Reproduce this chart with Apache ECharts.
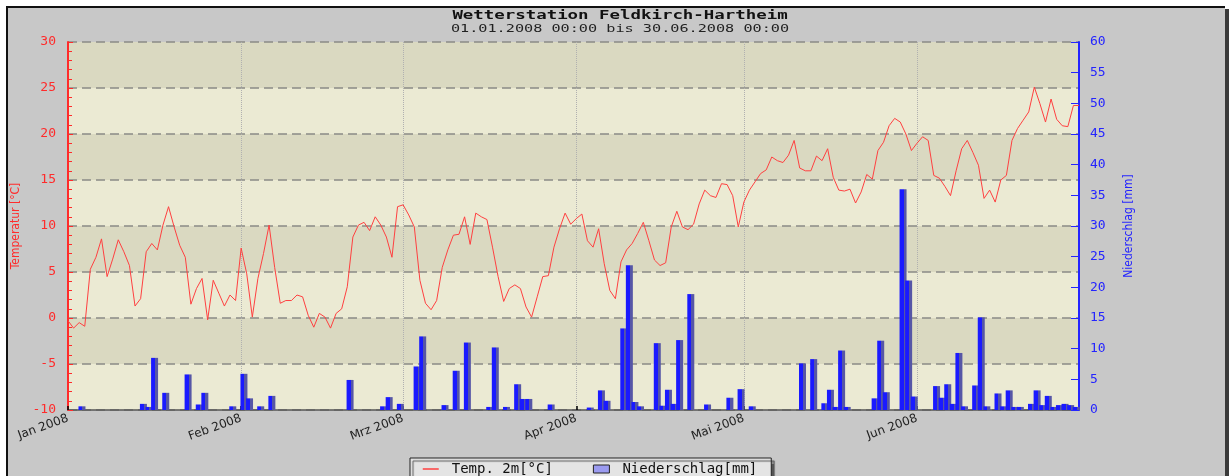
<!DOCTYPE html>
<html>
<head>
<meta charset="utf-8">
<title>Wetterstation Feldkirch-Hartheim</title>
<script src="https://cdn.jsdelivr.net/npm/echarts@6/dist/echarts.min.js"></script>
<style>
    html, body { margin: 0; padding: 0; background: #fff; overflow: hidden; }
    #panel {
        position: absolute; left: 6px; top: 6px; width: 1217px; height: 480px;
        border-top: 2px solid #111; border-left: 2px solid #111;
        background: #c8c8c8; box-shadow: 5px 3px 0 #3a3a3a;
    }
    #chart { width: 1217px; height: 468px; }
</style>
</head>
<body>
<div id="panel"><div id="chart"></div></div>
<script>
// Tagesmittel Temperatur 2m [°C], 01.01. - 30.06.2008
const tempJan = [-0.3, -1.1, -0.5, -0.9, 5.3, 6.6, 8.6, 4.5, 6.4, 8.5, 7.2, 5.7, 1.3, 2.1, 7.2, 8.1,
    7.4, 10.1, 12.1, 9.9, 7.9, 6.6, 1.5, 3.2, 4.3, -0.2, 4.1, 2.7, 1.3, 2.5, 1.9];
const tempFeb = [7.6, 4.8, 0.1, 4.3, 7.0, 10.1, 5.5, 1.6, 1.9, 1.9, 2.5, 2.3, 0.3, -1.0, 0.5, 0.1,
    -1.1, 0.5, 1.0, 3.4, 8.8, 10.1, 10.4, 9.5, 11.0, 10.1, 8.8, 6.6, 12.1];
const tempMar = [12.3, 11.2, 9.9, 4.1, 1.6, 0.9, 1.9, 5.5, 7.4, 9.0, 9.1, 11.0, 8.0, 11.4, 11.0, 10.7,
    7.7, 4.5, 1.8, 3.2, 3.6, 3.2, 1.2, 0.1, 2.3, 4.5, 4.6, 7.7, 9.7, 11.4, 10.2];
const tempApr = [10.8, 11.3, 8.4, 7.7, 9.7, 5.9, 3.0, 2.1, 6.1, 7.4, 8.1, 9.2, 10.4, 8.4, 6.3, 5.7,
    6.0, 9.9, 11.6, 9.9, 9.6, 10.2, 12.4, 13.9, 13.3, 13.1, 14.6, 14.5, 13.3, 9.9];
const tempMai = [12.6, 13.9, 14.8, 15.7, 16.1, 17.5, 17.1, 16.9, 17.7, 19.3, 16.3, 16.0, 16.0, 17.6, 17.1, 18.4,
    15.3, 13.9, 13.8, 14.0, 12.5, 13.7, 15.6, 15.1, 18.2, 19.1, 20.9, 21.7, 21.3, 20.0, 18.2];
const tempJun = [19.0, 19.7, 19.3, 15.5, 15.2, 14.3, 13.3, 16.0, 18.4, 19.3, 18.0, 16.6, 13.0, 13.9, 12.6, 15.0,
    15.5, 19.3, 20.6, 21.5, 22.4, 25.1, 23.3, 21.3, 23.8, 21.6, 20.9, 20.8, 23.1, 23.1];

// Tagessumme Niederschlag [mm]
const rainJan = [0, 0, 0.6, 0, 0, 0, 0, 0, 0, 0, 0, 0, 0, 1.0, 0.5, 8.5,
    0, 2.8, 0, 0, 0, 5.8, 0, 0.9, 2.8, 0, 0, 0, 0, 0.6, 0];
const rainFeb = [5.9, 1.9, 0, 0.6, 0, 2.3, 0, 0, 0, 0, 0, 0, 0, 0, 0, 0,
    0, 0, 0, 4.9, 0, 0, 0, 0, 0, 0.6, 2.1, 0, 1.0];
const rainMar = [0, 0, 7.1, 12.0, 0, 0, 0, 0.8, 0, 6.4, 0, 11.0, 0, 0, 0, 0.5,
    10.2, 0, 0.5, 0, 4.2, 1.8, 1.8, 0, 0, 0, 0.9, 0, 0, 0, 0];
const rainApr = [0, 0, 0.4, 0, 3.2, 1.5, 0, 0, 13.3, 23.6, 1.3, 0.6, 0, 0, 10.9, 0.7,
    3.3, 1.0, 11.4, 0, 18.9, 0, 0, 0.9, 0, 0, 0, 2.0, 0, 3.4];
const rainMai = [0, 0.6, 0, 0, 0, 0, 0, 0, 0, 0, 7.6, 0, 8.3, 0, 1.1, 3.3,
    0.5, 9.7, 0.5, 0, 0, 0, 0, 1.9, 11.3, 2.9, 0, 0, 36.0, 21.1, 2.2];
const rainJun = [0, 0, 0, 3.9, 2.0, 4.2, 1.0, 9.3, 0.6, 0, 4.0, 15.1, 0.6, 0, 2.7, 0.6,
    3.2, 0.5, 0.5, 0, 1.0, 3.2, 0.8, 2.3, 0.5, 0.8, 1.0, 0.8, 0.5, 0];

const firstDay = '2008-01-01';
const monthStarts = ['2008-01-01', '2008-02-01', '2008-03-01', '2008-04-01', '2008-05-01', '2008-06-01'];
const monthLabels = ['Jan 2008', 'Feb 2008', 'Mrz 2008', 'Apr 2008', 'Mai 2008', 'Jun 2008'];

const temps = [].concat(tempJan, tempFeb, tempMar, tempApr, tempMai, tempJun);
const rain = [].concat(rainJan, rainFeb, rainMar, rainApr, rainMai, rainJun);

function toTime (s, dayOffset, hour) {
    const p = s.split('-').map(Number);
    return new Date(p[0], p[1] - 1, p[2] + (dayOffset || 0), hour || 0).getTime();
}

const tempData = temps.map((v, i) => [toTime(firstDay, i), v]);
// Tagessumme mittig im Tag
const rainData = rain.map((v, i) => [toTime(firstDay, i, 12), v]).filter(d => d[1] > 0);
const tickTimes = monthStarts.map(s => toTime(s));

const red = '#ff2b2b';
const blue = '#2424ff';

let myChart = echarts.init(document.getElementById('chart'));
const option = {
    backgroundColor: '#c8c8c8',
    animation: false,
    graphic: [
        {
            type: 'text', x: 612, y: 8, scaleX: 1.45,
            style: {
                text: 'Wetterstation Feldkirch-Hartheim',
                font: 'bold 12px "DejaVu Sans Mono"', fill: '#111',
                textAlign: 'center', textVerticalAlign: 'middle',
            },
        },
        {
            type: 'text', x: 612, y: 21, scaleX: 1.38,
            style: {
                text: '01.01.2008 00:00 bis 30.06.2008 00:00',
                font: '11px "DejaVu Sans Mono"', fill: '#222',
                textAlign: 'center', textVerticalAlign: 'middle',
            },
        },
    ],
    legend: {
        left: 402,
        top: 450,
        padding: [4, 14, 6, 12],
        itemGap: 40,
        itemWidth: 16,
        itemHeight: 8,
        backgroundColor: '#e4e4e4',
        borderColor: '#222',
        borderWidth: 1,
        shadowColor: '#555',
        shadowBlur: 1,
        shadowOffsetX: 3,
        shadowOffsetY: 3,
        textStyle: { fontFamily: 'DejaVu Sans Mono', fontSize: 14, color: '#111', padding: [0, 0, 0, 8] },
        data: [
            { name: 'Temp. 2m[°C]', itemStyle: { opacity: 0 }, lineStyle: { color: '#ff4040', width: 1.5 } },
            { name: 'Niederschlag[mm]', icon: 'rect', itemStyle: { color: '#9b9bf0', borderColor: '#222', borderWidth: 1 } },
        ],
    },
    grid: { left: 60, right: 146, top: 34, bottom: 66, outerBoundsMode: 'none' },
    xAxis: {
        type: 'value',
        min: toTime(firstDay),
        max: toTime(firstDay, temps.length - 1),
        axisLine: { onZero: false, lineStyle: { color: '#555', width: 1.5 } },
        axisTick: { customValues: tickTimes, inside: true, length: 4, lineStyle: { color: '#000', width: 1.5 } },
        axisLabel: {
            customValues: tickTimes,
            formatter: (v) => {
                let k = 0;
                tickTimes.forEach((t, i) => { if (Math.abs(t - v) < Math.abs(tickTimes[k] - v)) k = i; });
                return monthLabels[k];
            },
            rotate: 20,
            margin: 8,
            color: '#222',
            fontFamily: 'DejaVu Sans',
            fontSize: 12,
        },
        splitLine: { show: true, lineStyle: { color: '#b0b0b0', type: 'dotted' } },
    },
    yAxis: [
        {
            type: 'value',
            min: -10,
            max: 30,
            interval: 5,
            position: 'left',
            name: 'Temperatur [°C]',
            nameLocation: 'middle',
            nameRotate: 90,
            nameGap: 44,
            nameTextStyle: { color: red, fontFamily: '"Liberation Sans Narrow", "DejaVu Sans Condensed", sans-serif', fontSize: 12 },
            axisLine: { show: true, lineStyle: { color: red, width: 2 } },
            axisTick: { show: true, inside: true, length: 5, lineStyle: { color: red } },
            minorTick: { show: true, splitNumber: 5, length: 4, lineStyle: { color: red } },
            axisLabel: { color: red, margin: 12, fontFamily: 'DejaVu Sans Mono', fontSize: 13 },
            splitLine: { show: true, lineStyle: { color: '#8a8a86', type: [9, 5], width: 1.5 } },
            splitArea: { show: true, areaStyle: { color: ['#ebead3', '#dad9c1'] } },
        },
        {
            type: 'value',
            min: 0,
            max: 60,
            interval: 5,
            position: 'right',
            name: 'Niederschlag [mm]',
            nameLocation: 'middle',
            nameRotate: 90,
            nameGap: 44,
            nameTextStyle: { color: blue, fontFamily: '"Liberation Sans Narrow", "DejaVu Sans Condensed", sans-serif', fontSize: 12 },
            axisLine: { show: true, lineStyle: { color: blue, width: 2 } },
            axisTick: { show: true, inside: true, length: 8, lineStyle: { color: blue } },
            axisLabel: { color: blue, margin: 11, fontFamily: 'DejaVu Sans Mono', fontSize: 13 },
            splitLine: { show: false },
        },
    ],
    series: [
        {
            name: 'Niederschlag[mm]',
            type: 'bar',
            yAxisIndex: 1,
            barWidth: 7,
            data: rainData,
            itemStyle: {
                color: new echarts.graphic.LinearGradient(0, 0, 1, 0, [
                    { offset: 0, color: '#1a1aff' },
                    { offset: 0.57, color: '#1a1aff' },
                    { offset: 0.57, color: '#5656a6' },
                    { offset: 1, color: '#5656a6' },
                ]),
            },
            z: 2,
        },
        {
            name: 'Temp. 2m[°C]',
            type: 'line',
            yAxisIndex: 0,
            data: tempData,
            symbol: 'none',
            lineStyle: { color: '#ff4040', width: 1 },
            itemStyle: { color: '#ff4040' },
            z: 3,
        },
    ],
};
myChart.setOption(option);
</script>
</body>
</html>
